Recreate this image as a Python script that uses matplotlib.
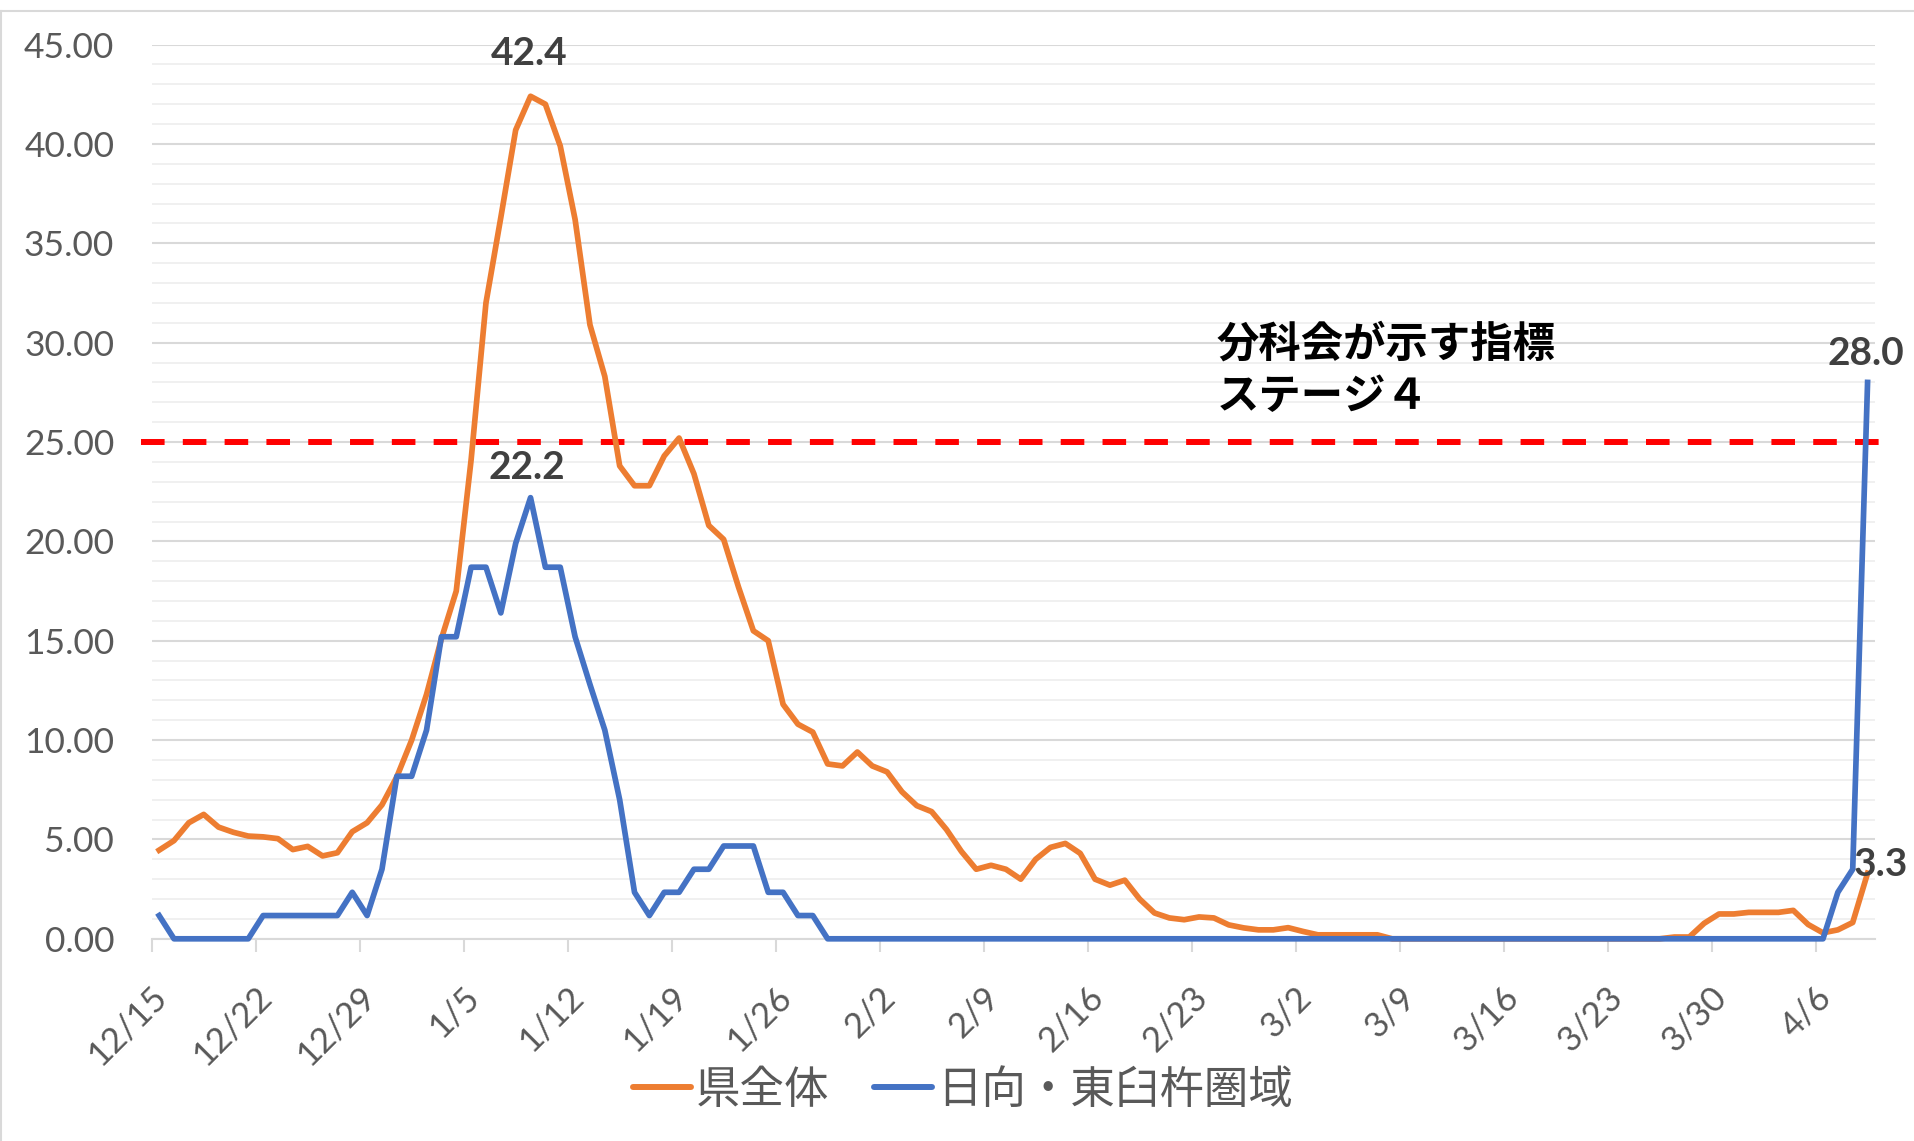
import matplotlib
matplotlib.use("Agg")
import matplotlib.pyplot as plt
from matplotlib.lines import Line2D
from matplotlib.transforms import ScaledTranslation
import pandas as pd

plt.rcParams['font.family'] = ['Lato', 'Noto Sans CJK JP', 'DejaVu Sans']

# daily dates 12/15 .. 4/9
dates = pd.date_range('2020-12-15', '2021-04-09', freq='D')
tick_labels = ['12/15', '12/22', '12/29', '1/5', '1/12', '1/19', '1/26', '2/2', '2/9',
               '2/16', '2/23', '3/2', '3/9', '3/16', '3/23', '3/30', '4/6']

# 県全体 (per 100k, weekly)
pref_total = [
    4.46, 4.94, 5.84, 6.26, 5.62, 5.36, 5.17, 5.13, 5.04, 4.49,
    4.65, 4.17, 4.33, 5.39, 5.84, 6.74, 8.15, 10.0, 12.3, 15.1,
    17.5, 24.1, 32.0, 36.3, 40.7, 42.4, 42.0, 39.9, 36.2, 30.9,
    28.3, 23.8, 22.8, 22.8, 24.3, 25.2, 23.4, 20.8, 20.1, 17.7,
    15.5, 15.0, 11.8, 10.8, 10.4, 8.8, 8.7, 9.4, 8.7, 8.4,
    7.4, 6.7, 6.4, 5.5, 4.4, 3.5, 3.7, 3.5, 3.0, 4.0,
    4.6, 4.8, 4.3, 3.0, 2.7, 2.95, 2.0, 1.3, 1.05, 0.96,
    1.1, 1.05, 0.7, 0.55, 0.45, 0.45, 0.56, 0.37, 0.2, 0.2,
    0.2, 0.2, 0.2, 0.0, 0.0, 0.0, 0.0, 0.0, 0.0, 0.0,
    0.0, 0.0, 0.0, 0.0, 0.0, 0.0, 0.0, 0.0, 0.0, 0.0,
    0.0, 0.0, 0.09, 0.09, 0.78, 1.25, 1.25, 1.33, 1.33, 1.33,
    1.43, 0.72, 0.3, 0.45, 0.82, 3.3,
]

# 日向・東臼杵圏域
hyuga = [
    1.17, 0.0, 0.0, 0.0, 0.0, 0.0, 0.0, 1.17, 1.17, 1.17,
    1.17, 1.17, 1.17, 2.34, 1.17, 3.50, 8.18, 8.18, 10.5, 15.2,
    15.2, 18.7, 18.7, 16.4, 19.9, 22.2, 18.7, 18.7, 15.2, 12.8,
    10.5, 7.0, 2.34, 1.17, 2.34, 2.34, 3.50, 3.50, 4.67, 4.67,
    4.67, 2.34, 2.34, 1.17, 1.17, 0.0, 0.0, 0.0, 0.0, 0.0,
    0.0, 0.0, 0.0, 0.0, 0.0, 0.0, 0.0, 0.0, 0.0, 0.0,
    0.0, 0.0, 0.0, 0.0, 0.0, 0.0, 0.0, 0.0, 0.0, 0.0,
    0.0, 0.0, 0.0, 0.0, 0.0, 0.0, 0.0, 0.0, 0.0, 0.0,
    0.0, 0.0, 0.0, 0.0, 0.0, 0.0, 0.0, 0.0, 0.0, 0.0,
    0.0, 0.0, 0.0, 0.0, 0.0, 0.0, 0.0, 0.0, 0.0, 0.0,
    0.0, 0.0, 0.0, 0.0, 0.0, 0.0, 0.0, 0.0, 0.0, 0.0,
    0.0, 0.0, 0.0, 2.34, 3.50, 28.0,
]

stage4 = 25.0
series_names = ['県全体', '日向・東臼杵圏域']
orange = '#ED7D31'
blue = '#4472C4'
grey_txt = '#595959'

W, H = 1915, 1141
fig = plt.figure(figsize=(W / 100, H / 100), dpi=100)
ax = fig.add_axes([151.7 / W, 1 - 938.8 / H, (1875 - 151.7) / W, (938.8 - 44.6) / H])

x = list(range(len(dates)))
ax.plot(x, pref_total, color=orange, lw=4.1, zorder=4, clip_on=False,
        solid_joinstyle='round', label=series_names[0])
ax.plot(x, hyuga, color=blue, lw=4.1, zorder=5, clip_on=False,
        solid_joinstyle='round', label=series_names[1])

# stage 4 reference line (a drawn shape slightly wider than the plot)
ax.plot([-1.24, len(dates) + 0.18], [stage4, stage4], color='#FF0000', lw=4.3,
        dashes=(3.95, 3.05), clip_on=False, zorder=3)

ax.set_xlim(-0.5, len(dates) - 0.5)
ax.set_ylim(0, 45)

# y axis
ax.set_yticks([i * 5 for i in range(10)])
ax.set_yticks(range(46), minor=True)
ax.set_yticklabels([f'{i * 5:.2f}' for i in range(10)])
ax.tick_params(axis='y', which='both', length=0, pad=27, labelsize=25.5, labelcolor=grey_txt)
ax.grid(axis='y', which='major', color='#d9d9d9', lw=1.5, zorder=0)
ax.grid(axis='y', which='minor', color='#f0f0f0', lw=1.4, zorder=0)

# x axis: tick marks on slot edges, labels on day centres
pos = [dates.get_loc(pd.Timestamp(f'{2020 if lab.startswith("12") else 2021}-{lab.replace("/", "-")}'))
       for lab in tick_labels]
ax.set_xticks([p - 0.5 for p in pos])
ax.set_xticklabels([''] * len(pos))
ax.set_xticks(pos, minor=True)
ax.set_xticklabels(tick_labels, minor=True, rotation=45, ha='right', va='top')
ax.tick_params(axis='x', which='major', length=9, width=1.5, color='#d9d9d9')
ax.tick_params(axis='x', which='minor', length=0, pad=30, labelsize=25, labelcolor=grey_txt)
shift = ScaledTranslation(14 / 100, 0, fig.dpi_scale_trans)
for lab in ax.get_xticklabels(minor=True):
    lab.set_transform(lab.get_transform() + shift)

for s in ['left', 'right', 'top']:
    ax.spines[s].set_visible(False)
ax.spines['bottom'].set_color('#d9d9d9')
ax.spines['bottom'].set_linewidth(1.5)
ax.set_axisbelow(True)

# data labels
lab_kw = dict(textcoords='offset points', ha='center', va='center',
              fontsize=28, fontweight='bold', color='#404040', zorder=6)
i_peak = pref_total.index(max(pref_total))
ax.annotate(f'{pref_total[i_peak]:.1f}', (i_peak, pref_total[i_peak]), xytext=(-1, 31), **lab_kw)
i_peak2 = hyuga.index(max(hyuga[:60]))
ax.annotate(f'{hyuga[i_peak2]:.1f}', (i_peak2, hyuga[i_peak2]), xytext=(-3, 21.5), **lab_kw)
ax.annotate(f'{hyuga[-1]:.1f}', (x[-1], hyuga[-1]), xytext=(-1.5, 21), **lab_kw)
ax.annotate(f'{pref_total[-1]:.1f}', (x[-1], pref_total[-1]), xytext=(9.5, 6.5), **lab_kw)

# stage 4 caption
fig.text(1217 / W, 1 - 324 / H, '分科会が示す指標\nステージ４', family='Noto Sans CJK JP',
         fontsize=30.5, fontweight='bold', color='black', ha='left', va='top', linespacing=1.3)

# legend
handles = [Line2D([], [], color=orange, lw=4.3, solid_capstyle='round'),
           Line2D([], [], color=blue, lw=4.3, solid_capstyle='round')]
leg = fig.legend(handles, series_names, loc='center', bbox_to_anchor=(963 / W, 1 - 1090 / H),
                 ncol=2, frameon=False, handlelength=1.3, handletextpad=0.12,
                 columnspacing=1.0, prop={'family': 'Noto Sans CJK JP', 'size': 32})
for t in leg.get_texts():
    t.set_color(grey_txt)

# chart area border
fig.add_artist(Line2D([1.5 / W, 1.5 / W], [0, 1 - 11 / H], transform=fig.transFigure,
                      color='#d9d9d9', lw=1.5))
fig.add_artist(Line2D([1.5 / W, 1], [1 - 11 / H, 1 - 11 / H], transform=fig.transFigure,
                      color='#d9d9d9', lw=1.5))

fig.savefig('out.png', dpi=100)
